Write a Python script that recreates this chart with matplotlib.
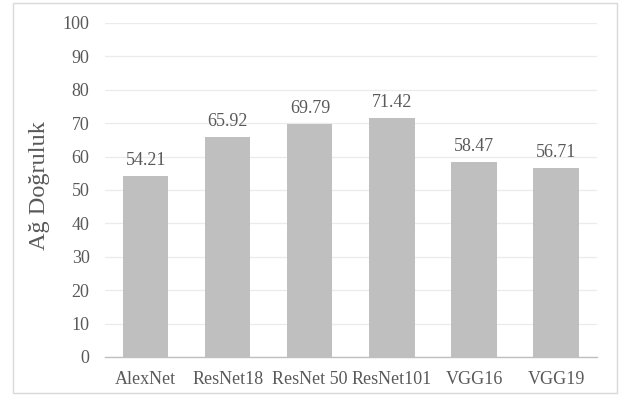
import matplotlib.pyplot as plt
from matplotlib.patches import Rectangle

# Model isimleri ve doğruluk değerleri
models = ["AlexNet", "ResNet18", "ResNet 50", "ResNet101", "VGG16", "VGG19"]
accuracy = [54.21, 65.92, 69.79, 71.42, 58.47, 56.71]
yticks = [0, 10, 20, 30, 40, 50, 60, 70, 80, 90, 100]

plt.rcParams["font.family"] = ["Liberation Serif", "DejaVu Serif"]
text_color = "#595959"

fig = plt.figure(figsize=(6.2, 3.96), dpi=100)
ax = fig.add_axes([0.169, 0.0985, 0.794, 0.8435])

x = range(len(models))
ax.bar(x, accuracy, width=0.55, color="#BFBFBF", zorder=2)

# Değer etiketleri
for i, v in zip(x, accuracy):
    ax.annotate(f"{v:.2f}", (i, v), xytext=(0, 5), textcoords="offset points",
                ha="center", va="bottom", fontsize=13, color=text_color)

ax.set_xlim(-0.5, len(models) - 0.5)
ax.set_ylim(0, 100)
ax.set_yticks(yticks)
ax.set_xticks(list(x))
ax.set_xticklabels(models)
ax.tick_params(axis="both", length=0, labelsize=13, colors=text_color)
ax.tick_params(axis="y", pad=11)
ax.tick_params(axis="x", pad=10)
ax.grid(axis="y", color="#EBEBEB", linewidth=0.9, zorder=0)

for side in ["top", "right", "left"]:
    ax.spines[side].set_visible(False)
ax.spines["bottom"].set_color("#BFBFBF")
ax.spines["bottom"].set_linewidth(1.0)

fig.text(0.063, 0.532, "Ağ Doğruluk", rotation=90, ha="center", va="center",
         fontsize=17.5, color=text_color)

# Grafik çerçevesi
fig.patches.append(Rectangle((0.021, 0.008), 0.974, 0.984, transform=fig.transFigure,
                             fill=False, edgecolor="#D9D9D9", linewidth=1.0))

fig.savefig("out.png", dpi=100)
